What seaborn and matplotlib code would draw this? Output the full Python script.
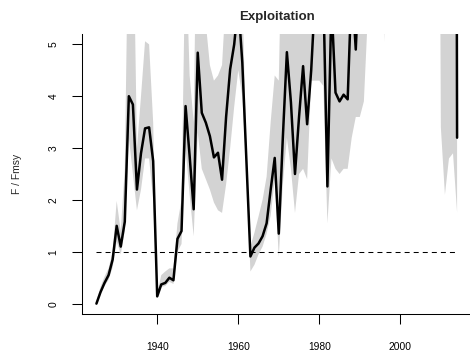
import numpy as np
import pandas as pd
import matplotlib
matplotlib.use("Agg")
import matplotlib.pyplot as plt
import seaborn as sns

# Annual F/Fmsy estimates with lower/upper uncertainty bounds
years = list(range(1925, 2015))

f_fmsy = [
    0.00, 0.22, 0.40, 0.55, 0.85, 1.50, 1.10, 1.58, 4.00, 3.84,  # 1925-1934
    2.20, 2.90, 3.38, 3.40, 2.75, 0.14, 0.37, 0.40, 0.50, 0.45,  # 1935-1944
    1.25, 1.40, 3.81, 2.85, 1.82, 4.84, 3.68, 3.49, 3.23, 2.82,  # 1945-1954
    2.91, 2.39, 3.60, 4.52, 5.00, 5.80, 4.65, 2.78, 0.91, 1.08,  # 1955-1964
    1.16, 1.30, 1.55, 2.20, 2.81, 1.35, 3.20, 4.85, 3.88, 2.50,  # 1965-1974
    3.60, 4.58, 3.46, 4.50, 6.00, 6.50, 6.00, 2.26, 5.80, 4.07,  # 1975-1984
    3.90, 4.03, 3.94, 6.20, 4.90, 6.80, 8.00, 9.00, 10.0, 11.0,  # 1985-1994
    11.0, 10.0, 11.0, 12.0, 12.0, 13.0, 13.0, 14.0, 14.0, 15.0,  # 1995-2004
    15.0, 16.0, 16.0, 17.0, 18.0, 18.0, 19.0, 20.0, 40.0, 3.20,  # 2005-2014
]

f_lower = [
    0.00, 0.18, 0.34, 0.46, 0.70, 1.20, 0.95, 1.40, 3.20, 2.50,  # 1925-1934
    1.80, 2.20, 2.80, 2.80, 2.00, 0.12, 0.32, 0.34, 0.42, 0.38,  # 1935-1944
    1.00, 1.15, 3.00, 2.10, 1.30, 3.30, 2.60, 2.40, 2.20, 1.95,  # 1945-1954
    1.80, 1.75, 2.30, 3.00, 3.80, 4.50, 4.00, 2.60, 0.62, 0.75,  # 1955-1964
    0.95, 1.10, 1.35, 1.70, 2.40, 0.90, 2.30, 3.20, 2.60, 1.75,  # 1965-1974
    2.50, 2.60, 2.40, 4.30, 4.30, 4.30, 4.20, 1.55, 2.80, 2.60,  # 1975-1984
    2.50, 2.60, 2.60, 3.20, 3.60, 3.60, 3.90, 5.60, 9.00, 9.00,  # 1985-1994
    9.00, 5.05, 9.00, 10.0, 10.0, 10.0, 11.0, 11.0, 11.0, 12.0,  # 1995-2004
    12.0, 12.0, 13.0, 13.0, 20.0, 3.40, 2.10, 2.80, 2.90, 1.76,  # 2005-2014
]

f_upper = [
    0.05, 0.32, 0.52, 0.68, 1.00, 1.98, 1.40, 2.60, 8.00, 8.00,  # 1925-1934
    3.00, 4.00, 5.06, 5.00, 3.50, 0.20, 0.55, 0.62, 0.68, 0.68,  # 1935-1944
    1.55, 2.00, 7.00, 4.40, 3.50, 9.00, 7.00, 5.40, 4.60, 4.30,  # 1945-1954
    4.40, 4.60, 6.00, 7.00, 8.00, 9.00, 6.00, 3.00, 1.10, 1.37,  # 1955-1964
    1.68, 2.00, 2.45, 3.50, 4.40, 4.30, 8.00, 9.00, 8.00, 7.00,  # 1965-1974
    8.00, 9.00, 8.00, 9.00, 10.0, 11.0, 10.0, 9.00, 10.0, 9.00,  # 1975-1984
    8.00, 8.00, 8.00, 10.0, 9.00, 12.0, 13.0, 14.0, 15.0, 16.0,  # 1985-1994
    16.0, 16.0, 17.0, 18.0, 18.0, 19.0, 19.0, 20.0, 20.0, 21.0,  # 1995-2004
    21.0, 22.0, 22.0, 23.0, 24.0, 25.0, 26.0, 27.0, 50.0, 9.00,  # 2005-2014
]

reference_level = 1.0
xtick_years = [1940, 1960, 1980, 2000]
ytick_values = [0, 1, 2, 3, 4, 5]

df = pd.DataFrame({"year": years, "F": f_fmsy, "lo": f_lower, "hi": f_upper})

sns.set_theme(style="ticks")
plt.rcParams["font.family"] = ["Liberation Sans", "DejaVu Sans"]

fig = plt.figure(figsize=(4.7, 3.6), dpi=100)
ax = fig.add_axes([82 / 470, 46 / 360, 389.5 / 470, 280 / 360])

ax.fill_between(df["year"], df["lo"], df["hi"], color="#d3d3d3", linewidth=0)
sns.lineplot(data=df, x="year", y="F", ax=ax, color="black", linewidth=1.8,
             estimator=None, sort=False)
ax.plot([df["year"].iloc[0], df["year"].iloc[-1]], [reference_level, reference_level],
        color="black", linewidth=0.75, linestyle=(0, (4.8, 3.9)))

span = years[-1] - years[0]
ax.set_xlim(years[0] - 0.04 * span, years[-1] + 0.04 * span)
ax.set_ylim(-0.2, 5.2)

ax.set_xticks(xtick_years)
ax.set_yticks(ytick_values)
ax.set_yticklabels([str(v) for v in ytick_values], rotation=90, va="center")
ax.tick_params(axis="both", direction="out", length=7.5, width=0.75,
               colors="black", labelsize=7.4)
ax.tick_params(axis="x", pad=12.5)
ax.tick_params(axis="y", pad=9.5)

for side in ("top", "right"):
    ax.spines[side].set_visible(False)
for side in ("left", "bottom"):
    ax.spines[side].set_color("black")
    ax.spines[side].set_linewidth(0.75)

ax.set_xlabel("")
ax.set_ylabel("F / Fmsy", fontsize=7.4, labelpad=19)
ax.set_title("Exploitation", fontsize=9.5, fontweight="bold", pad=10)

fig.savefig("out.png", dpi=100, facecolor="white")
